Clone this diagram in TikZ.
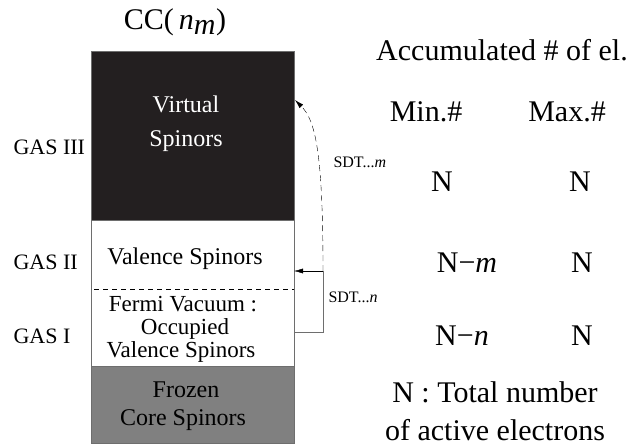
\documentclass[tikz,border=0pt]{standalone}
\usepackage{fontspec}
\setmainfont{Liberation Serif}
\usepackage{xcolor}
\usetikzlibrary{arrows.meta}

\definecolor{virtblack}{RGB}{35,31,32}
\definecolor{coregray}{RGB}{128,128,128}
\definecolor{edgegray}{RGB}{110,110,110}

\begin{document}
\begin{tikzpicture}[x=1pt,y=-1pt,
    big/.style={font=\fontsize{30}{31}\selectfont},
    mid/.style={font=\fontsize{24}{25}\selectfont, inner sep=0.5pt},
    tight/.style={font=\fontsize{23}{24}\selectfont, inner sep=0pt, text height=15pt, text depth=4pt},
    gas/.style={font=\fontsize{22}{23}\selectfont, anchor=west},
    small/.style={font=\fontsize{16}{17}\selectfont, anchor=west}]
    \useasboundingbox (0,0) rectangle (644,446);

    % Title
    \node[big] (title) at (175,22) {CC(\,\textit{n}$_{\textit{m}}$)};

    % Virtual spinors (GAS III)
    \draw[edgegray, fill=virtblack] (91,51) rectangle (294,220);
    \node[mid, white] (virt1) at (186,104) {Virtual};
    \node[mid, white] (virt2) at (186,141) {Spinors};

    % Valence + Fermi vacuum (GAS II, GAS I)
    \draw[edgegray, thick] (91,220) rectangle (294,366);
    \draw[dashed, dash pattern=on 5pt off 4pt] (94,289) -- (294,289);
    \node[mid] (val) at (185,259) {Valence Spinors};
    \node[tight] (fermi1) at (183,306) {Fermi Vacuum :};
    \node[tight] (fermi2) at (185,329) {Occupied};
    \node[tight] (fermi3) at (181,352) {Valence Spinors};

    % Frozen core
    \draw[edgegray, thick, fill=coregray] (91,366) rectangle (294,443);
    \node[mid] (core1) at (186,390) {Frozen};
    \node[mid] (core2) at (183,420) {Core Spinors};

    % GAS labels
    \node[gas] (gas3) at (10,147) {GAS III};
    \node[gas] (gas2) at (10,262) {GAS II};
    \node[gas] (gas1) at (10,336) {GAS I};

    % Excitation arrows
    \coordinate (brkTop) at (323,271);
    \coordinate (brkBot) at (323,332);
    \coordinate (valE) at (294,271);
    \coordinate (gas1E) at (294,332);
    \coordinate (virtE) at (295,100);
    \draw[-{Latex[length=9pt,width=5pt]}] (brkTop) -- (valE);
    \draw[edgegray] (brkTop) -- (brkBot) -- (gas1E);
    \draw[dash pattern=on 6pt off 4pt, -{Latex[length=9pt,width=5pt]}]
        (brkTop) .. controls (323,150) and (315,120) .. (virtE);
    \node[small] (sdtm) at (330,162) {SDT...\textit{m}};
    \node[small] (sdtn) at (325,297) {SDT...\textit{n}};

    % Accumulated electrons
    \node[big] (acc) at (502,50) {Accumulated \# of el.};
    \node[big] (min) at (426,112) {Min.\#};
    \node[big] (max) at (567,112) {Max.\#};
    \node[big] (min3) at (442,182) {N};
    \node[big] (max3) at (580,182) {N};
    \node[big] (min2) at (467,263) {N−\textit{m}};
    \node[big] (max2) at (582,263) {N};
    \node[big] (min1) at (462,336) {N−\textit{n}};
    \node[big] (max1) at (582,336) {N};

    % Note
    \node[big] (note1) at (495,392) {N : Total number};
    \node[big] (note2) at (495,430) {of active electrons};
\end{tikzpicture}
\end{document}
